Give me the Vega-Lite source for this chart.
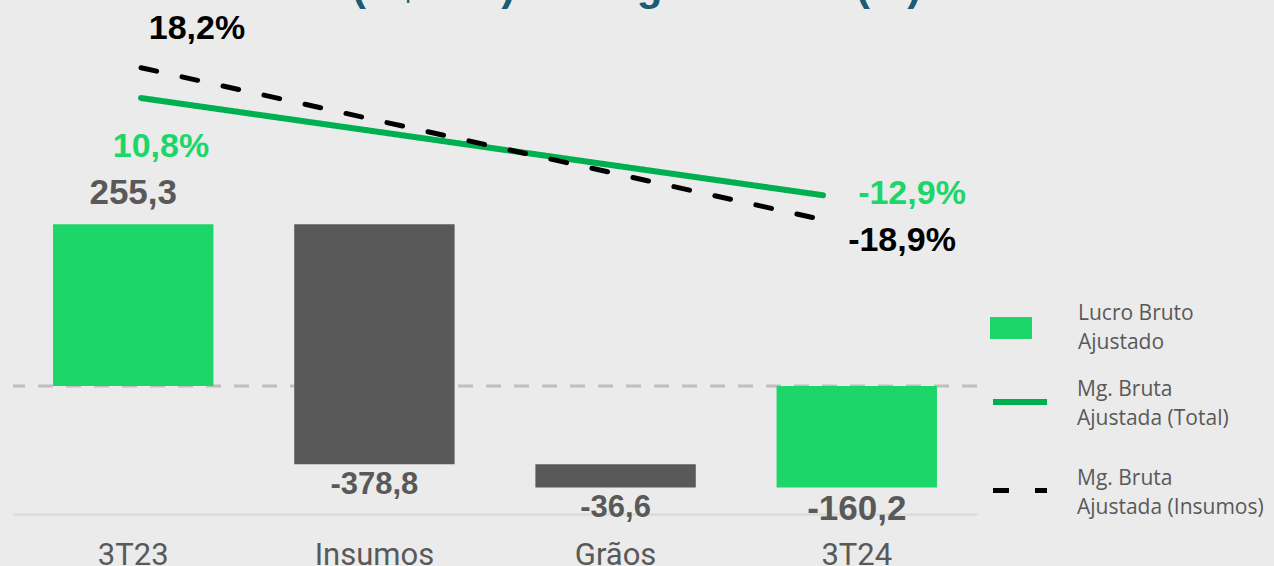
{
  "$schema": "https://vega.github.io/schema/vega-lite/v6.json",
  "width": 964,
  "height": 514,
  "autosize": {"type": "none"},
  "padding": {"left": 13, "top": 0, "right": 297, "bottom": 52},
  "background": "#EBEBEB",
  "config": {
    "view": {"stroke": null},
    "locale": {"number": {"decimal": ",", "thousands": ".", "grouping": [3], "currency": ["R$", ""], "minus": "-", "percent": "%"}}
  },
  "title": {
    "text": "Lucro Bruto (R$ MM) e Margem Bruta (%)",
    "font": "Liberation Sans",
    "fontSize": 42,
    "fontWeight": "bold",
    "color": "#1B5C74",
    "anchor": "start",
    "frame": "group",
    "dx": 87,
    "baseline": "alphabetic",
    "offset": -42
  },
  "datasets": {
    "barras": [
      {"cat": "3T23", "tipo": "Lucro Bruto Ajustado", "valor": 255.3, "inicio": 0, "fim": 255.3},
      {"cat": "Insumos", "tipo": "Variação", "valor": -378.8, "inicio": 255.3, "fim": -123.5},
      {"cat": "Grãos", "tipo": "Variação", "valor": -36.6, "inicio": -123.5, "fim": -160.1},
      {"cat": "3T24", "tipo": "Lucro Bruto Ajustado", "valor": -160.2, "inicio": 0, "fim": -160.2}
    ],
    "margens": [
      {"cat": "3T23", "serie": "Mg. Bruta Ajustada (Total)", "mg": 0.108},
      {"cat": "3T24", "serie": "Mg. Bruta Ajustada (Total)", "mg": -0.129},
      {"cat": "3T23", "serie": "Mg. Bruta Ajustada (Insumos)", "mg": 0.182},
      {"cat": "3T24", "serie": "Mg. Bruta Ajustada (Insumos)", "mg": -0.189}
    ],
    "zero": [{"base": 0}]
  },
  "layer": [
    {
      "layer": [
        {
          "data": {"name": "zero"},
          "mark": {"type": "rule", "color": "#BFBFBF", "strokeWidth": 3, "strokeDash": [15, 13]},
          "encoding": {
            "y": {"field": "base", "type": "quantitative", "scale": {"domain": [-202, 609], "nice": false, "zero": false}, "axis": null}
          }
        },
        {
          "data": {"name": "barras"},
          "mark": {"type": "bar"},
          "encoding": {
            "x": {
              "field": "cat", "type": "nominal", "sort": ["3T23", "Insumos", "Grãos", "3T24"],
              "scale": {"paddingInner": 0.335, "paddingOuter": 0.166},
              "axis": {"title": null, "domainColor": "#D9D9D9", "domainWidth": 2, "ticks": false, "grid": false, "labelAngle": 0, "labelFont": "Roboto", "labelFontSize": 31, "labelColor": "#595959", "labelPadding": 26}
            },
            "y": {"field": "inicio", "type": "quantitative", "scale": {"domain": [-202, 609], "nice": false, "zero": false}, "axis": null},
            "y2": {"field": "fim"},
            "color": {
              "field": "tipo", "type": "nominal",
              "scale": {"domain": ["Lucro Bruto Ajustado", "Variação"], "range": ["#1DD66A", "#595959"]},
              "legend": {
                "values": ["Lucro Bruto Ajustado"],
                "orient": "none", "legendX": 977, "legendY": 307, "title": null, "padding": 0,
                "symbolType": "M-1,-0.52H1V0.52H-1Z", "symbolSize": 1764, "symbolStrokeWidth": 0,
                "labelOffset": 46, "labelFont": "Open Sans", "labelFontSize": 21, "labelColor": "#595959", "labelLimit": 300,
                "labelExpr": "['Lucro Bruto', 'Ajustado']",
                "encoding": {"labels": {"lineHeight": {"value": 29}, "dy": {"value": -14}}}
              }
            }
          }
        },
        {
          "data": {"name": "barras"},
          "transform": [{"filter": "datum.valor > 0"}],
          "mark": {"type": "text", "font": "Liberation Sans", "fontWeight": "bold", "fontSize": 35, "color": "#595959", "baseline": "middle", "dy": -31},
          "encoding": {
            "x": {"field": "cat", "type": "nominal", "sort": ["3T23", "Insumos", "Grãos", "3T24"]},
            "y": {"field": "fim", "type": "quantitative", "axis": null},
            "text": {"field": "valor", "type": "quantitative", "format": ".1f"}
          }
        },
        {
          "data": {"name": "barras"},
          "transform": [{"filter": "datum.valor < 0 && datum.tipo == 'Variação'"}],
          "mark": {"type": "text", "font": "Liberation Sans", "fontWeight": "bold", "fontSize": 31, "color": "#595959", "baseline": "middle", "dy": 21},
          "encoding": {
            "x": {"field": "cat", "type": "nominal", "sort": ["3T23", "Insumos", "Grãos", "3T24"]},
            "y": {"field": "fim", "type": "quantitative", "axis": null},
            "text": {"field": "valor", "type": "quantitative", "format": ".1f"}
          }
        },
        {
          "data": {"name": "barras"},
          "transform": [{"filter": "datum.valor < 0 && datum.tipo == 'Lucro Bruto Ajustado'"}],
          "mark": {"type": "text", "font": "Liberation Sans", "fontWeight": "bold", "fontSize": 35, "color": "#595959", "baseline": "middle", "dy": 21},
          "encoding": {
            "x": {"field": "cat", "type": "nominal", "sort": ["3T23", "Insumos", "Grãos", "3T24"]},
            "y": {"field": "fim", "type": "quantitative", "axis": null},
            "text": {"field": "valor", "type": "quantitative", "format": ".1f"}
          }
        }
      ]
    },
    {
      "data": {"name": "margens"},
      "encoding": {
        "x": {"field": "cat", "type": "nominal", "scale": {"type": "point", "domain": ["3T23", "3T24"], "range": [128, 810], "padding": 0}, "axis": null},
        "y": {"field": "mg", "type": "quantitative", "scale": {"domain": [-0.906, 0.347], "nice": false, "zero": false}, "axis": null}
      },
      "layer": [
        {
          "mark": {"type": "line", "strokeCap": "round"},
          "encoding": {
            "stroke": {
              "field": "serie", "type": "nominal",
              "scale": {"domain": ["Mg. Bruta Ajustada (Total)", "Mg. Bruta Ajustada (Insumos)"], "range": ["#00B050", "#000000"]},
              "legend": {
                "orient": "none", "legendX": 977, "legendY": 372, "title": null, "padding": 0,
                "symbolType": "stroke", "symbolSize": 2916, "symbolStrokeWidth": 5, "rowPadding": 32,
                "labelOffset": 27, "labelFont": "Open Sans", "labelFontSize": 21, "labelColor": "#595959", "labelLimit": 300,
                "labelExpr": "datum.label == 'Mg. Bruta Ajustada (Total)' ? ['Mg. Bruta', ' Ajustada (Total)'] : ['Mg. Bruta', 'Ajustada (Insumos)']",
                "encoding": {"labels": {"lineHeight": {"value": 29}, "dy": {"value": -12}}}
              }
            },
            "strokeDash": {
              "field": "serie", "type": "nominal",
              "scale": {"domain": ["Mg. Bruta Ajustada (Total)", "Mg. Bruta Ajustada (Insumos)"], "range": [[1, 0], [16, 26]]},
              "legend": {
                "orient": "none", "legendX": 977, "legendY": 372, "title": null, "padding": 0,
                "symbolType": "stroke", "symbolSize": 2916, "symbolStrokeWidth": 5, "rowPadding": 32,
                "labelOffset": 27, "labelFont": "Open Sans", "labelFontSize": 21, "labelColor": "#595959", "labelLimit": 300,
                "labelExpr": "datum.label == 'Mg. Bruta Ajustada (Total)' ? ['Mg. Bruta', ' Ajustada (Total)'] : ['Mg. Bruta', 'Ajustada (Insumos)']",
                "encoding": {"labels": {"lineHeight": {"value": 29}, "dy": {"value": -12}}}
              }
            },
            "strokeWidth": {
              "field": "serie", "type": "nominal",
              "scale": {"domain": ["Mg. Bruta Ajustada (Total)", "Mg. Bruta Ajustada (Insumos)"], "range": [6, 5]},
              "legend": null
            }
          }
        },
        {
          "transform": [{"filter": "datum.serie == 'Mg. Bruta Ajustada (Insumos)' && datum.cat == '3T23'"}],
          "mark": {"type": "text", "font": "Liberation Sans", "fontWeight": "bold", "fontSize": 34, "color": "#000000", "baseline": "middle", "dx": 56, "dy": -39},
          "encoding": {"text": {"field": "mg", "type": "quantitative", "format": ".1%"}}
        },
        {
          "transform": [{"filter": "datum.serie == 'Mg. Bruta Ajustada (Total)' && datum.cat == '3T23'"}],
          "mark": {"type": "text", "font": "Liberation Sans", "fontWeight": "bold", "fontSize": 34, "color": "#1DD66A", "baseline": "middle", "dx": 20, "dy": 49},
          "encoding": {"text": {"field": "mg", "type": "quantitative", "format": ".1%"}}
        },
        {
          "transform": [{"filter": "datum.serie == 'Mg. Bruta Ajustada (Total)' && datum.cat == '3T24'"}],
          "mark": {"type": "text", "font": "Liberation Sans", "fontWeight": "bold", "fontSize": 34, "color": "#1DD66A", "baseline": "middle", "dx": 89, "dy": -1},
          "encoding": {"text": {"field": "mg", "type": "quantitative", "format": ".1%"}}
        },
        {
          "transform": [{"filter": "datum.serie == 'Mg. Bruta Ajustada (Insumos)' && datum.cat == '3T24'"}],
          "mark": {"type": "text", "font": "Liberation Sans", "fontWeight": "bold", "fontSize": 34, "color": "#000000", "baseline": "middle", "dx": 79, "dy": 21},
          "encoding": {"text": {"field": "mg", "type": "quantitative", "format": ".1%"}}
        }
      ]
    }
  ],
  "resolve": {"scale": {"x": "independent", "y": "independent"}}
}
